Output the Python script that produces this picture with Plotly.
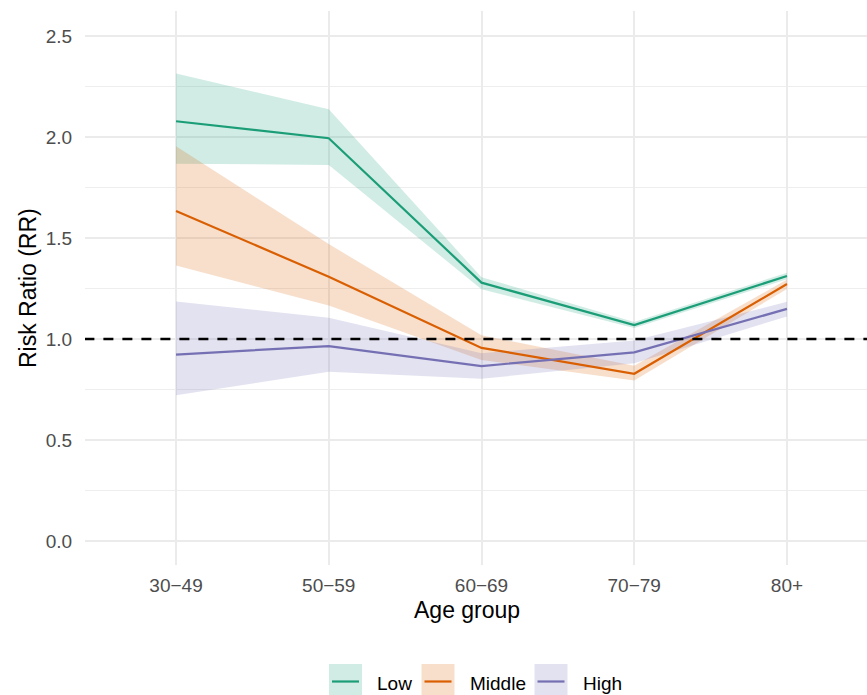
import plotly.graph_objects as go

# Age groups on the x axis
age_groups = ["30\u221249", "50\u221259", "60\u221269", "70\u221279", "80+"]

# Risk ratio estimates with 95% confidence bounds, per income group
low_rr = [2.078, 1.994, 1.279, 1.069, 1.312]
low_lo = [1.868, 1.862, 1.246, 1.055, 1.296]
low_hi = [2.314, 2.137, 1.306, 1.084, 1.328]

mid_rr = [1.634, 1.308, 0.956, 0.828, 1.272]
mid_lo = [1.364, 1.166, 0.896, 0.795, 1.248]
mid_hi = [1.954, 1.470, 1.018, 0.868, 1.294]

high_rr = [0.923, 0.965, 0.866, 0.934, 1.149]
high_lo = [0.721, 0.838, 0.803, 0.880, 1.112]
high_hi = [1.186, 1.105, 0.930, 0.992, 1.184]

group_names = ["Low", "Middle", "High"]
group_colors = ["#1B9E77", "#D95F02", "#7570B3"]
group_fills = ["rgba(27,158,119,0.2)", "rgba(217,95,2,0.2)", "rgba(117,112,179,0.2)"]

reference_rr = 1.0

series = [(low_rr, low_lo, low_hi), (mid_rr, mid_lo, mid_hi), (high_rr, high_lo, high_hi)]

FONT = "Liberation Sans, Arial, Helvetica, sans-serif"
W, H = 867, 695
ML, MR, MT, MB = 85, 0, 11, 130
PW, PH = W - ML - MR, H - MT - MB

fig = go.Figure()

# Confidence ribbons first
for (rr, lo, hi), name, fc in zip(series, group_names, group_fills):
    fig.add_trace(go.Scatter(x=age_groups, y=hi, mode="lines", line=dict(width=0),
                             hoverinfo="skip", showlegend=False))
    fig.add_trace(go.Scatter(x=age_groups, y=lo, mode="lines", line=dict(width=0),
                             fill="tonexty", fillcolor=fc, hoverinfo="skip",
                             showlegend=False))

# Reference line at RR = 1
fig.add_trace(go.Scatter(x=[-0.6, 4.6], y=[reference_rr, reference_rr], mode="lines",
                         line=dict(color="black", width=2.5, dash="10px,9px"),
                         xaxis="x2", hoverinfo="skip", showlegend=False))

# Point estimate lines
for (rr, lo, hi), name, col in zip(series, group_names, group_colors):
    fig.add_trace(go.Scatter(x=age_groups, y=rr, mode="lines", name=name,
                             line=dict(color=col, width=2.2), showlegend=False))


def px_x(p):
    return (p - ML) / PW


def px_y(p):
    return (MT + PH - p) / PH


# Legend drawn below the panel
key_left = [329, 421.5, 534.5]
key_w, key_h, key_top = 33, 33, 664
shapes = []
annotations = []
for name, col, fc, kx in zip(group_names, group_colors, group_fills, key_left):
    shapes.append(dict(type="rect", xref="paper", yref="paper",
                       x0=px_x(kx), x1=px_x(kx + key_w),
                       y0=px_y(key_top + key_h), y1=px_y(key_top),
                       fillcolor=fc, line=dict(width=0), layer="above"))
    shapes.append(dict(type="line", xref="paper", yref="paper",
                       x0=px_x(kx + 3), x1=px_x(kx + key_w - 3),
                       y0=px_y(681.5), y1=px_y(681.5),
                       line=dict(color=col, width=2.2), layer="above"))
    annotations.append(dict(text=name, xref="paper", yref="paper",
                            x=px_x(kx + key_w + 13), y=px_y(683),
                            xanchor="left", yanchor="middle", showarrow=False,
                            font=dict(family=FONT, size=19, color="black")))

# Axis titles
annotations.append(dict(text="Age group", xref="paper", yref="paper",
                        x=px_x(467), y=px_y(610), xanchor="center", yanchor="middle",
                        showarrow=False, font=dict(family=FONT, size=23, color="black")))
annotations.append(dict(text="Risk Ratio (RR)", xref="paper", yref="paper",
                        x=px_x(28), y=px_y(288), xanchor="center", yanchor="middle",
                        textangle=-90, showarrow=False,
                        font=dict(family=FONT, size=23, color="black")))

fig.update_layout(
    width=W, height=H,
    margin=dict(l=ML, r=MR, t=MT, b=MB, pad=0),
    paper_bgcolor="white", plot_bgcolor="white",
    font=dict(family=FONT, size=19, color="#4D4D4D"),
    showlegend=False,
    shapes=shapes,
    annotations=annotations,
    xaxis=dict(type="category", categoryorder="array", categoryarray=age_groups,
               range=[-0.596, 4.524], showgrid=True, gridcolor="#EBEBEB", gridwidth=1.6,
               zeroline=False, showline=False, ticks="outside", ticklen=0,
               ticklabelstandoff=3,
               tickfont=dict(family=FONT, size=19, color="#4D4D4D")),
    xaxis2=dict(overlaying="x", range=[-0.596, 4.524], visible=False),
    yaxis=dict(range=[-0.119, 2.624], tickmode="linear", tick0=0, dtick=0.5,
               tickformat=".1f", showgrid=True, gridcolor="#EBEBEB", gridwidth=1.6,
               minor=dict(dtick=0.25, tick0=0, showgrid=True, gridcolor="#EEEEEE",
                          gridwidth=1.0),
               zeroline=False, showline=False, ticks="outside", ticklen=0,
               ticklabelstandoff=8,
               tickfont=dict(family=FONT, size=19, color="#4D4D4D")),
)

fig.write_html("out.html")
